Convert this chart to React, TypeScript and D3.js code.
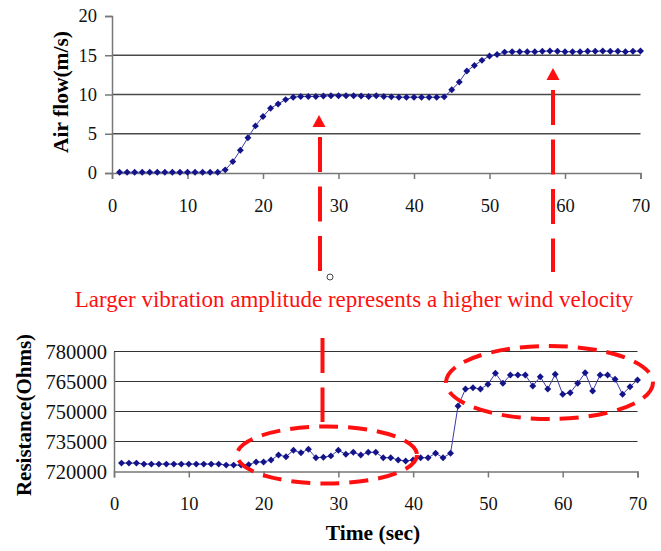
import * as d3 from 'd3';
import React, { useEffect, useRef } from 'react';

const time = [
  1, 2, 3, 4, 5, 6, 7, 8, 9, 10, 11, 12, 13, 14, 15, 16, 17, 18, 19, 20,
  21, 22, 23, 24, 25, 26, 27, 28, 29, 30, 31, 32, 33, 34, 35, 36, 37, 38, 39, 40,
  41, 42, 43, 44, 45, 46, 47, 48, 49, 50, 51, 52, 53, 54, 55, 56, 57, 58, 59, 60,
  61, 62, 63, 64, 65, 66, 67, 68, 69, 70,
];

const airFlow = [
  0.1, 0.1, 0.1, 0.1, 0.1, 0.1, 0.1, 0.1, 0.1, 0.1, 0.1, 0.1, 0.1, 0.1, 0.4, 1.45, 2.9, 4.5, 6.0, 7.2,
  8.25, 8.8, 9.35, 9.65, 9.75, 9.75, 9.75, 9.8, 9.85, 9.85, 9.85, 9.85, 9.8, 9.75, 9.85, 9.75, 9.7, 9.65, 9.65, 9.65,
  9.65, 9.65, 9.65, 9.7, 10.6, 11.6, 13.0, 13.7, 14.35, 14.9, 15.1, 15.4, 15.45, 15.45, 15.45, 15.45, 15.5, 15.55, 15.5, 15.45,
  15.45, 15.45, 15.5, 15.5, 15.55, 15.5, 15.5, 15.45, 15.5, 15.55,
];

const resistance = [
  724200, 724200, 724200, 723700, 723700, 723700, 723700, 723700, 723700, 723700,
  723700, 723700, 723700, 723700, 723200, 723200, 723200, 723400, 724750, 724750,
  725750, 728250, 727400, 730600, 729400, 731100, 726900, 727100, 727800, 730600,
  728600, 729600, 728250, 729600, 729600, 726900, 726900, 725750, 725250, 725750,
  726900, 726900, 729100, 726900, 729100, 752750, 761250, 761900, 761250, 763600,
  769100, 764100, 768250, 768250, 768250, 762750, 767400, 761250, 768600, 758600,
  759400, 764100, 769400, 760250, 768250, 768250, 766100, 758600, 762400, 765750,
];

const airTicks = [0, 5, 10, 15, 20];
const airGrid = [5, 10, 15];
const resTicks = [720000, 735000, 750000, 765000, 780000];
const timeTicks = [0, 10, 20, 30, 40, 50, 60, 70];

const SERIF = '"Liberation Serif", "Times New Roman", serif';
const NAVY = '#14148a';
const RED = '#ff1010';

function App() {
  const svgRef = useRef<SVGSVGElement>(null);

  useEffect(() => {
    const svg = d3.select(svgRef.current);
    svg.selectAll('*').remove();

    // ---- top chart: air flow
    const xTop = d3.scaleLinear().domain([0, 70]).range([112, 640.5]);
    const yTop = d3.scaleLinear().domain([0, 20]).range([173, 16]);

    const top = svg.append('g');
    top
      .selectAll('.grid')
      .data(airGrid)
      .join('line')
      .attr('x1', xTop(0))
      .attr('x2', xTop(70))
      .attr('y1', d => yTop(d))
      .attr('y2', d => yTop(d))
      .attr('stroke', '#4a4a4a')
      .attr('stroke-width', 1.3);

    const topY = top
      .append('g')
      .attr('transform', `translate(${xTop(0)},0)`)
      .call(d3.axisLeft(yTop).tickValues(airTicks).tickSize(7).tickPadding(8).tickFormat(d3.format('d')));
    const topX = top
      .append('g')
      .attr('transform', `translate(0,${yTop(0)})`)
      .call(d3.axisBottom(xTop).tickValues(timeTicks).tickSize(6).tickPadding(20).tickFormat(d3.format('d')));

    [topY, topX].forEach(ax => {
      ax.selectAll('path,line').attr('stroke', '#777').attr('stroke-width', 1.5);
      ax.selectAll('text').attr('font-family', SERIF).attr('font-size', 18.5).attr('fill', '#111');
    });

    const airLine = d3
      .line<number>()
      .x((d, i) => xTop(time[i]))
      .y(d => yTop(d));
    top.append('path').attr('d', airLine(airFlow)).attr('fill', 'none').attr('stroke', '#3a3aa6').attr('stroke-width', 1);

    const marker = d3.symbol(d3.symbolSquare, 24);
    top
      .selectAll('.pt')
      .data(airFlow)
      .join('path')
      .attr('d', marker())
      .attr('transform', (d, i) => `translate(${xTop(time[i])},${yTop(d)}) rotate(45)`)
      .attr('fill', NAVY);

    top
      .append('text')
      .attr('transform', 'translate(68,92) rotate(-90)')
      .attr('text-anchor', 'middle')
      .attr('font-family', SERIF)
      .attr('font-weight', 'bold')
      .attr('font-size', 21.5)
      .text('Air flow(m/s)');

    // ---- bottom chart: resistance
    const xBot = d3.scaleLinear().domain([0, 70]).range([114, 637.5]);
    const yBot = d3.scaleLinear().domain([720000, 780000]).range([471.5, 351.5]);

    const bot = svg.append('g');
    bot
      .selectAll('.grid')
      .data(resTicks.slice(1))
      .join('line')
      .attr('x1', xBot(0))
      .attr('x2', xBot(70))
      .attr('y1', d => yBot(d))
      .attr('y2', d => yBot(d))
      .attr('stroke', '#333')
      .attr('stroke-width', 1.2);

    const botY = bot
      .append('g')
      .attr('transform', `translate(${xBot(0)},0)`)
      .call(d3.axisLeft(yBot).tickValues(resTicks).tickSize(0).tickPadding(7).tickFormat(d3.format('d')));
    const botX = bot
      .append('g')
      .attr('transform', `translate(0,${yBot(720000)})`)
      .call(d3.axisBottom(xBot).tickValues(timeTicks).tickSize(6).tickPadding(19).tickFormat(d3.format('d')));

    [botY, botX].forEach(ax => {
      ax.selectAll('path,line').attr('stroke', '#777').attr('stroke-width', 1.5);
      ax.selectAll('text').attr('font-family', SERIF).attr('font-size', 18.5).attr('fill', '#111');
    });
    botY.selectAll('text').attr('font-size', 20.5);

    const resLine = d3
      .line<number>()
      .x((d, i) => xBot(time[i]))
      .y(d => yBot(d));
    bot.append('path').attr('d', resLine(resistance)).attr('fill', 'none').attr('stroke', '#3a3aa6').attr('stroke-width', 1);

    bot
      .selectAll('.pt')
      .data(resistance)
      .join('path')
      .attr('d', marker())
      .attr('transform', (d, i) => `translate(${xBot(time[i])},${yBot(d)}) rotate(45)`)
      .attr('fill', NAVY);

    bot
      .append('text')
      .attr('transform', 'translate(31,415) rotate(-90)')
      .attr('text-anchor', 'middle')
      .attr('font-family', SERIF)
      .attr('font-weight', 'bold')
      .attr('font-size', 21)
      .text('Resistance(Ohms)');

    bot
      .append('text')
      .attr('x', 373)
      .attr('y', 540)
      .attr('text-anchor', 'middle')
      .attr('font-family', SERIF)
      .attr('font-weight', 'bold')
      .attr('font-size', 21.5)
      .text('Time (sec)');

    // ---- red annotations
    const ann = svg.append('g');
    const dashed = [
      { x: 320, y1: 137, y2: 272 },
      { x: 553, y1: 90, y2: 272 },
      { x: 322.5, y1: 338, y2: 422 },
    ];
    ann
      .selectAll('.vdash')
      .data(dashed)
      .join('line')
      .attr('x1', d => d.x)
      .attr('x2', d => d.x)
      .attr('y1', d => d.y1)
      .attr('y2', d => d.y2)
      .attr('stroke', RED)
      .attr('stroke-width', 4)
      .attr('stroke-dasharray', '35 14.5');

    const arrows = [
      { x: 319, tip: 115 },
      { x: 553, tip: 68 },
    ];
    ann
      .selectAll('.arrow')
      .data(arrows)
      .join('path')
      .attr('d', d => `M${d.x},${d.tip} L${d.x + 6.5},${d.tip + 12} L${d.x - 6.5},${d.tip + 12} Z`)
      .attr('fill', RED);

    const ellipses = [
      { cx: 327, cy: 455, rx: 90, ry: 28.5 },
      { cx: 549.5, cy: 382.5, rx: 103.5, ry: 36.5 },
    ];
    ann
      .selectAll('.ell')
      .data(ellipses)
      .join('ellipse')
      .attr('cx', d => d.cx)
      .attr('cy', d => d.cy)
      .attr('rx', d => d.rx)
      .attr('ry', d => d.ry)
      .attr('fill', 'none')
      .attr('stroke', RED)
      .attr('stroke-width', 4)
      .attr('stroke-dasharray', '19 10');

    ann
      .append('text')
      .attr('x', 354)
      .attr('y', 307)
      .attr('text-anchor', 'middle')
      .attr('font-family', SERIF)
      .attr('font-size', 23)
      .attr('fill', RED)
      .text('Larger vibration amplitude represents a higher wind velocity');

    ann
      .append('circle')
      .attr('cx', 330)
      .attr('cy', 277)
      .attr('r', 3)
      .attr('fill', 'white')
      .attr('stroke', '#444')
      .attr('stroke-width', 1);
  }, []);

  return (
    <svg
      ref={svgRef}
      width={661}
      height={551}
      style={{ position: 'absolute', left: 0, top: 0, background: 'white' }}
    />
  );
}

export default App;
